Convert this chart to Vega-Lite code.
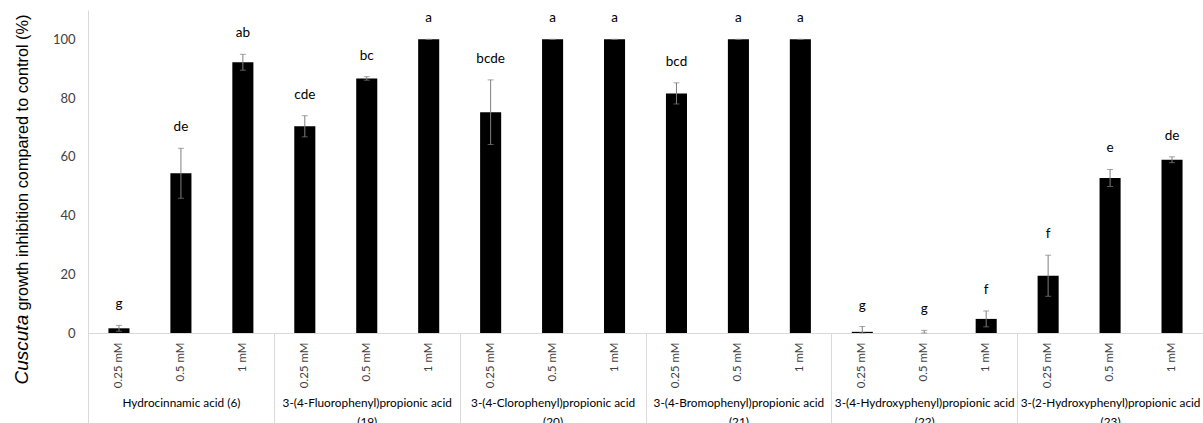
{
  "$schema": "https://vega.github.io/schema/vega-lite/v6.json",
  "autosize": {"type": "none"},
  "padding": {"left": 88, "top": 10, "right": 0, "bottom": 90},
  "width": 1115,
  "height": 323,
  "background": "white",
  "config": {"view": {"stroke": null}},
  "data": {"values": [
    {"compound": "Hydrocinnamic acid (6)", "id": "6 0.25 mM", "conc": "0.25 mM", "mean": 1.6, "lo": 0.6, "hi": 2.6, "letter": "g"},
    {"compound": "Hydrocinnamic acid (6)", "id": "6 0.5 mM", "conc": "0.5 mM", "mean": 54.4, "lo": 45.9, "hi": 62.9, "letter": "de"},
    {"compound": "Hydrocinnamic acid (6)", "id": "6 1 mM", "conc": "1 mM", "mean": 92.2, "lo": 89.5, "hi": 94.9, "letter": "ab"},
    {"compound": "3-(4-Fluorophenyl)propionic acid (19)", "id": "19 0.25 mM", "conc": "0.25 mM", "mean": 70.4, "lo": 66.8, "hi": 74.0, "letter": "cde"},
    {"compound": "3-(4-Fluorophenyl)propionic acid (19)", "id": "19 0.5 mM", "conc": "0.5 mM", "mean": 86.7, "lo": 86.1, "hi": 87.3, "letter": "bc"},
    {"compound": "3-(4-Fluorophenyl)propionic acid (19)", "id": "19 1 mM", "conc": "1 mM", "mean": 100, "lo": 100, "hi": 100, "letter": "a"},
    {"compound": "3-(4-Clorophenyl)propionic acid (20)", "id": "20 0.25 mM", "conc": "0.25 mM", "mean": 75.2, "lo": 64.2, "hi": 86.2, "letter": "bcde"},
    {"compound": "3-(4-Clorophenyl)propionic acid (20)", "id": "20 0.5 mM", "conc": "0.5 mM", "mean": 100, "lo": 100, "hi": 100, "letter": "a"},
    {"compound": "3-(4-Clorophenyl)propionic acid (20)", "id": "20 1 mM", "conc": "1 mM", "mean": 100, "lo": 100, "hi": 100, "letter": "a"},
    {"compound": "3-(4-Bromophenyl)propionic acid (21)", "id": "21 0.25 mM", "conc": "0.25 mM", "mean": 81.6, "lo": 78.0, "hi": 85.2, "letter": "bcd"},
    {"compound": "3-(4-Bromophenyl)propionic acid (21)", "id": "21 0.5 mM", "conc": "0.5 mM", "mean": 100, "lo": 100, "hi": 100, "letter": "a"},
    {"compound": "3-(4-Bromophenyl)propionic acid (21)", "id": "21 1 mM", "conc": "1 mM", "mean": 100, "lo": 100, "hi": 100, "letter": "a"},
    {"compound": "3-(4-Hydroxyphenyl)propionic acid (22)", "id": "22 0.25 mM", "conc": "0.25 mM", "mean": 0.4, "lo": 0, "hi": 2.2, "letter": "g"},
    {"compound": "3-(4-Hydroxyphenyl)propionic acid (22)", "id": "22 0.5 mM", "conc": "0.5 mM", "mean": 0, "lo": 0, "hi": 0.9, "letter": "g"},
    {"compound": "3-(4-Hydroxyphenyl)propionic acid (22)", "id": "22 1 mM", "conc": "1 mM", "mean": 4.8, "lo": 2.1, "hi": 7.5, "letter": "f"},
    {"compound": "3-(2-Hydroxyphenyl)propionic acid (23)", "id": "23 0.25 mM", "conc": "0.25 mM", "mean": 19.5, "lo": 12.5, "hi": 26.5, "letter": "f"},
    {"compound": "3-(2-Hydroxyphenyl)propionic acid (23)", "id": "23 0.5 mM", "conc": "0.5 mM", "mean": 52.8, "lo": 49.9, "hi": 55.7, "letter": "e"},
    {"compound": "3-(2-Hydroxyphenyl)propionic acid (23)", "id": "23 1 mM", "conc": "1 mM", "mean": 59.0, "lo": 58.0, "hi": 60.0, "letter": "de"}
  ]},
  "layer": [
    {
      "encoding": {
        "x": {
          "field": "id", "type": "nominal", "sort": null,
          "scale": {"paddingInner": 0, "paddingOuter": 0},
          "axis": {
            "orient": "bottom", "title": null, "ticks": false,
            "domainColor": "#d9d9d9", "domainWidth": 1,
            "labelExpr": "slice(datum.label, indexof(datum.label, ' ') + 1)",
            "labelAngle": 270, "labelAlign": "right", "labelBaseline": "middle",
            "labelPadding": 9, "labelFont": "Lato", "labelFontSize": 11.5,
            "labelColor": "#404040", "labelOverlap": false
          }
        }
      },
      "layer": [
        {
          "mark": {"type": "bar", "color": "#000000", "width": {"band": 0.34}},
          "encoding": {
            "y": {
              "field": "mean", "type": "quantitative",
              "title": "growth inhibition compared to control (%)",
              "scale": {"domain": [0, 110], "nice": false},
              "axis": {
                "values": [0, 20, 40, 60, 80, 100], "grid": false, "ticks": false,
                "domainColor": "#d9d9d9", "labelFont": "Lato", "labelFontSize": 13,
                "labelColor": "#404040", "labelPadding": 13,
                "titleFont": "Liberation Sans", "titleFontSize": 16.3, "titleFontWeight": "normal",
                "titleColor": "#000000", "titleAngle": 270, "titleAlign": "left",
                "titleBaseline": "middle", "titleX": -66, "titleY": 300
              }
            }
          }
        },
        {
          "mark": {"type": "errorbar", "color": "#7f7f7f", "ticks": {"size": 6, "color": "#7f7f7f"}},
          "encoding": {
            "y": {"field": "lo", "type": "quantitative", "title": "growth inhibition compared to control (%)"},
            "y2": {"field": "hi"}
          }
        },
        {
          "mark": {"type": "text", "font": "Lato", "fontSize": 13.5, "color": "#000000", "baseline": "middle", "dy": -21},
          "encoding": {
            "y": {"field": "hi", "type": "quantitative", "title": "growth inhibition compared to control (%)"},
            "text": {"field": "letter"}
          }
        }
      ]
    },
    {
      "mark": {"type": "point", "opacity": 0},
      "encoding": {
        "x": {
          "field": "compound", "type": "nominal", "sort": null,
          "scale": {"paddingInner": 0, "paddingOuter": 0},
          "axis": {
            "orient": "bottom", "title": null, "tickBand": "extent",
            "ticks": true, "tickSize": 95, "tickColor": "#d9d9d9", "tickWidth": 1,
            "domainColor": "#d9d9d9",
            "labelExpr": "indexof(datum.label, 'propionic') >= 0 ? [slice(datum.label, 0, lastindexof(datum.label, ' (')), slice(datum.label, lastindexof(datum.label, ' (') + 1)] : datum.label",
            "labelPadding": -31, "labelFont": "Lato", "labelFontSize": 11.8,
            "labelLineHeight": 19, "labelColor": "#000000", "labelOverlap": false,
            "labelAngle": 0, "labelBaseline": "top", "labelLimit": 300
          }
        },
        "y": {
          "datum": 0, "type": "quantitative",
          "axis": {
            "orient": "left", "domain": false, "labels": false, "ticks": false, "grid": false,
            "title": "Cuscuta", "titleFont": "Liberation Sans", "titleFontSize": 19,
            "titleFontStyle": "italic", "titleFontWeight": "normal", "titleColor": "#000000",
            "titleAngle": 270, "titleAlign": "left", "titleBaseline": "middle",
            "titleX": -67, "titleY": 374
          }
        }
      }
    }
  ],
  "resolve": {"scale": {"x": "independent"}, "axis": {"x": "independent", "y": "independent"}}
}
